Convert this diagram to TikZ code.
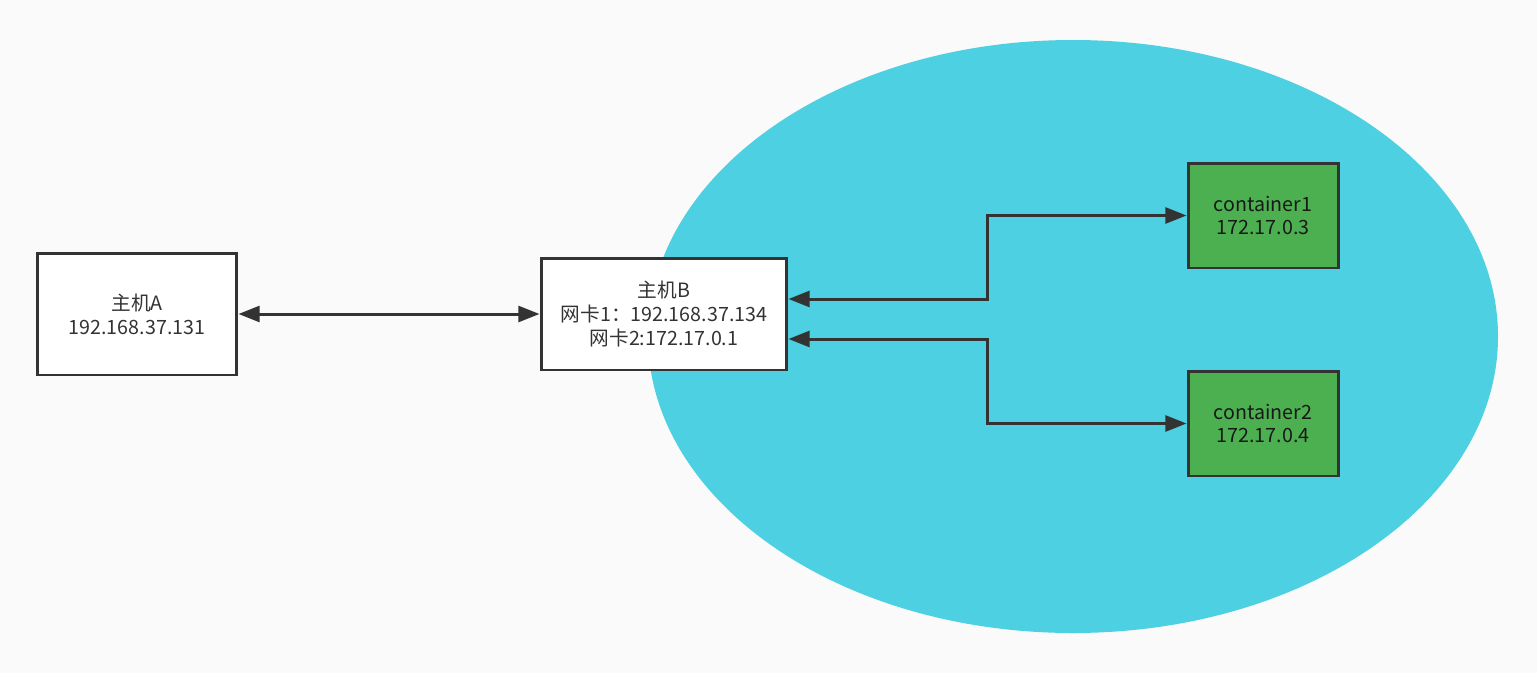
\documentclass[tikz,border=0pt]{standalone}
\usepackage{fontspec}
\setmainfont{Noto Sans CJK SC}
\usetikzlibrary{arrows.meta,calc}
\definecolor{bg}{HTML}{FAFAFA}
\definecolor{cyanfill}{HTML}{4DD0E1}
\definecolor{greenfill}{HTML}{4CAF50}
\definecolor{dark}{HTML}{333333}
\tikzset{
  box/.style={draw=dark, line width=1.7pt, fill=white, text=dark, align=center, inner sep=0pt,
    font=\fontsize{11.2}{13.6}\selectfont},
  cbox/.style={box, fill=greenfill, text=black!90},
  arr/.style={draw=dark, line width=1.7pt, {Triangle[length=12pt,width=9pt]}-{Triangle[length=12pt,width=9pt]}},
}
\begin{document}
\begin{tikzpicture}[x=0.02cm,y=-0.02cm]
\fill[bg] (0,0) rectangle (1537,673);
\useasboundingbox (0,0) rectangle (1537,673);
\fill[cyanfill] (1073,336.5) ellipse [x radius=425, y radius=296.5];
\node[box, minimum width=4cm, minimum height=2.44cm] (A) at (137,314) {主机A\\192.168.37.131};
\node[box, minimum width=4.92cm, minimum height=2.24cm] (B) at (664,314) {主机B\\网卡1：192.168.37.134\\网卡2:172.17.0.1};
\node[cbox, minimum width=3cm, minimum height=2.1cm] (C1) at (1263,215.5) {container1\\172.17.0.3};
\node[cbox, minimum width=3cm, minimum height=2.1cm] (C2) at (1263,423.5) {container2\\172.17.0.4};
\coordinate (m) at (987,0);
\coordinate (p1) at ($(B.east)+(0,-15)$);
\coordinate (p2) at ($(B.east)+(0,25)$);
\draw[arr] (A.east) -- (B.west);
\draw[arr] (p1) -- (p1 -| m) |- (C1.west);
\draw[arr] (p2) -- (p2 -| m) |- (C2.west);
\end{tikzpicture}
\end{document}
